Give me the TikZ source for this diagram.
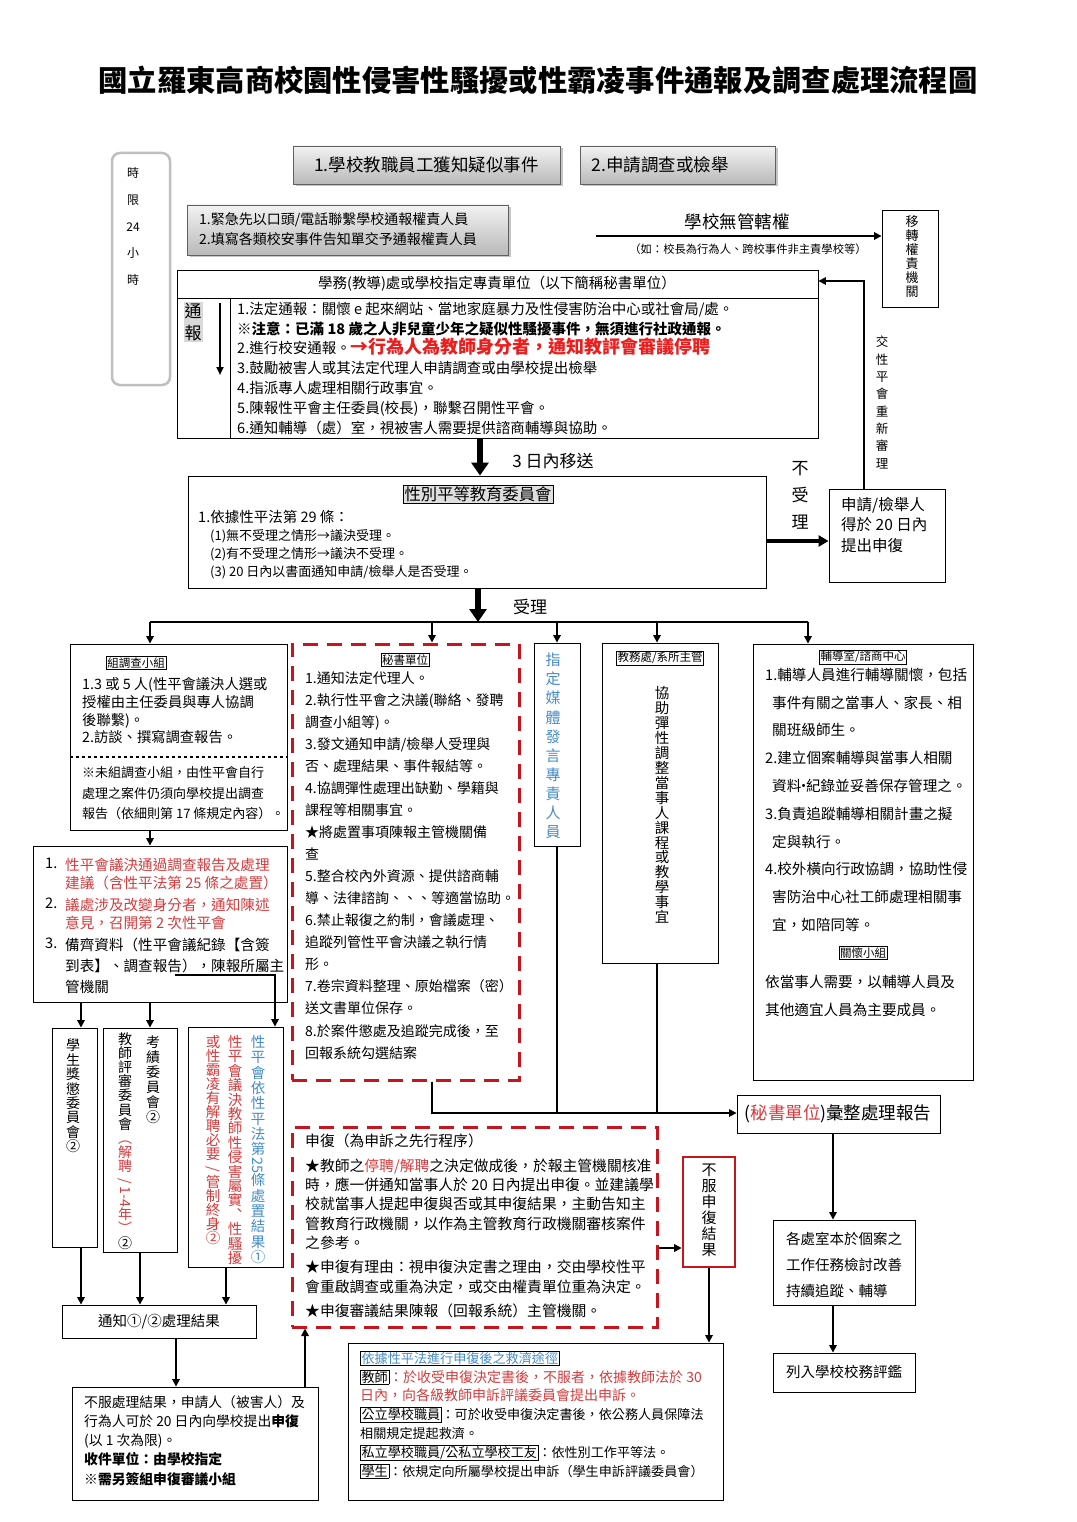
\documentclass[tikz,border=0pt]{standalone}
\usepackage{fontspec}
\usepackage{graphicx}
\setmainfont{Noto Sans CJK TC}
\usetikzlibrary{arrows.meta,fit,shadows}
\definecolor{dred}{RGB}{200,20,30}
\definecolor{tred}{RGB}{212,60,62}
\definecolor{bred}{RGB}{235,30,30}
\definecolor{tblue}{RGB}{70,140,200}
\newcommand\fs[2]{\fontsize{#1}{#2}\selectfont}
\newcommand\rtt[1]{\rotatebox[origin=c]{-90}{#1}}
\newcommand\R[1]{\textcolor{tred}{#1}}
\setlength\fboxsep{0.8pt}
\setlength\fboxrule{0.6pt}
\begin{document}
\begin{tikzpicture}[x=1pt,y=-1pt,
  bx/.style={draw, line width=0.9pt, inner sep=0pt},
  gbx/.style={draw=gray!75!black, line width=0.8pt, inner sep=0pt, top color=gray!10, bottom color=gray!55, drop shadow={shadow xshift=2.5pt, shadow yshift=-2.5pt, opacity=0.45}},
  rdash/.style={draw=dred, line width=3pt, inner sep=0pt, dash pattern=on 15pt off 9pt},
  tx/.style={inner sep=0pt, align=left, anchor=north west},
  vt/.style={inner sep=0pt, align=center},
  lab/.style={draw, line width=0.6pt, inner sep=1.2pt, font=\fs{11.5}{13}},
  thk/.style={line width=3.5pt, -{Triangle[width=11pt,length=10pt]}},
  thkk/.style={line width=5.5pt, -{Triangle[width=17pt,length=13pt]}},
  arr/.style={line width=1.6pt, -{Triangle[width=7.5pt,length=7.5pt]}},
  ln/.style={line width=1.8pt}]
\useasboundingbox (0,0) rectangle (1076,1522);
\fill[white] (0,0) rectangle (1076,1522);

% title
\node[inner sep=0pt, font=\fs{29.3}{32}\bfseries] (title) at (538,80) {國立羅東高商校園性侵害性騷擾或性霸凌事件通報及調查處理流程圖};

% time limit
\node[draw=gray!50, line width=2.5pt, rounded corners=8pt, inner sep=0pt, fit={(112,153)(170,385)}] (tl) {};
\node[vt, font=\fs{12}{26.8}] (tlt) at (133,226.5) {時\\限\\24\\小\\時};

% top boxes
\node[gbx, fit={(293,146)(560,184)}] (b1) {};
\node[inner sep=0pt, font=\fs{17.5}{20}] (b1t) at (b1) {1.學校教職員工獲知疑似事件};
\node[gbx, fit={(580,146)(775,184)}] (b2) {};
\node[inner sep=0pt, font=\fs{17.5}{20}] (b2t) at (660,165) {2.申請調查或檢舉};
\node[gbx, fit={(187,205)(508,255)}] (b3) {};
\node[tx, font=\fs{14}{20}] (b3t) at (199,212) {1.緊急先以口頭/電話聯繫學校通報權責人員\\2.填寫各類校安事件告知單交予通報權責人員};

% jurisdiction
\node[bx, fit={(882,210)(938,307)}] (yz) {};
\node[vt, font=\fs{13}{14}] (yzt) at (912,257) {移\\轉\\權\\責\\機\\關};
\coordinate (jstart) at (596,236);
\draw[arr] (jstart) -- (jstart -| yz.west);
\node[inner sep=0pt, font=\fs{17.5}{20}] (jl) at (737,222) {學校無管轄權};
\node[inner sep=0pt, font=\fs{11.3}{13}] (jl2) at (748,249) {（如：校長為行為人、跨校事件非主責學校等）};

% secretariat
\node[bx, fit={(177,270)(818,438)}] (sec) {};
\draw[line width=0.9pt] (177,298) -- (818,298);
\draw[line width=0.9pt] (230,298) -- (230,438);
\node[inner sep=0pt, font=\fs{14.5}{16}] (sech) at (497,284) {學務(教導)處或學校指定專責單位（以下簡稱秘書單位）};
\node[vt, fill=gray!30, inner sep=1pt, font=\fs{17}{22}] (tb) at (193,322) {通\\報};
\draw[line width=2pt, -{Triangle[width=7pt,length=8pt]}] (220,303) -- (220,375);
\node[tx, font=\fs{14.5}{19.83}] (secb) at (237,301.75) {1.法定通報：關懷 e 起來網站、當地家庭暴力及性侵害防治中心或社會局/處。\\{\bfseries ※注意：已滿 18 歲之人非兒童少年之疑似性騷擾事件，無須進行社政通報。}\\2.進行校安通報。{\color{bred}\bfseries\fs{18}{19.83}→行為人為教師身分者，通知教評會審議停聘}\\3.鼓勵被害人或其法定代理人申請調查或由學校提出檢舉\\4.指派專人處理相關行政事宜。\\5.陳報性平會主任委員(校長)，聯繫召開性平會。\\6.通知輔導（處）室，視被害人需要提供諮商輔導與協助。};

% committee
\coordinate (xc) at (480,0);
\node[inner sep=0pt, font=\fs{17}{20}] (d3) at (553,461) {3 日內移送};
\node[bx, fit={(188,476)(766,588)}] (cb) {};
\draw[thkk] (sec.south -| xc) -- (cb.north -| xc);
\node[draw, fill=gray!25, inner sep=1.5pt, font=\fs{16.3}{18}] (cbt) at (478,494) {性別平等教育委員會};
\node[tx, font=\fs{14.5}{16}] (cb1) at (198,510) {1.依據性平法第 29 條：};
\node[tx, font=\fs{13}{18}] (cb2) at (210,529.5) {(1)無不受理之情形→議決受理。\\(2)有不受理之情形→議決不受理。\\(3) 20 日內以書面通知申請/檢舉人是否受理。};

% not accepted
\node[bx, fit={(829,489)(945,582)}] (sq) {};
\node[tx, font=\fs{15.5}{20.5}] (sqt) at (841,497) {申請/檢舉人\\得於 20 日內\\提出申復};
\coordinate (ya) at (0,541);
\draw[thk] (cb.east |- ya) -- (sq.west |- ya);
\node[vt, font=\fs{17}{27}] (bsl) at (800,495) {不\\受\\理};
\coordinate (xr) at (864,0);
\coordinate (yr) at (0,281);
\draw[arr] (sq.north -| xr) |- (sec.east |- yr);
\node[vt, font=\fs{12.5}{17.3}] (rl) at (882,402.5) {交\\性\\平\\會\\重\\新\\審\\理};

% accepted bus
\coordinate (bus) at (478,622);
\draw[thkk] (cb.south -| bus) -- (bus);
\node[inner sep=0pt, font=\fs{17}{20}] (sl) at (530,607) {受理};
\coordinate (x1) at (150,0);
\coordinate (x2) at (432,0);
\coordinate (x3) at (557,0);
\coordinate (x4) at (657,0);
\coordinate (x5) at (808,0);
\draw[line width=2.5pt] (bus -| x1) -- (bus -| x5);

% investigation group
\node[bx, fit={(70,644)(287,830)}] (gb) {};
\draw[dashed, line width=1.2pt] (70,757) -- (287,757);
\node[lab] (gbl) at (136,663) {組調查小組};
\node[tx, font=\fs{14.3}{17.7}] (gbt) at (82,677.5) {1.3 或 5 人(性平會議決人選或\\授權由主任委員與專人協調\\後聯繫)。\\2.訪談、撰寫調查報告。};
\node[tx, font=\fs{13}{20.5}] (gbt2) at (82,766.5) {※未組調查小組，由性平會自行\\處理之案件仍須向學校提出調查\\報告（依細則第 17 條規定內容）。};

% secretariat unit (dashed)
\node[rdash, fit={(292,644)(519,1080)}] (sb) {};
\node[lab] (sbl) at (405,660) {秘書單位};
\node[tx, font=\fs{14}{22.06}] (sbt) at (305,671) {1.通知法定代理人。\\2.執行性平會之決議(聯絡、發聘\\調查小組等)。\\3.發文通知申請/檢舉人受理與\\否、處理結果、事件報結等。\\4.協調彈性處理出缺勤、學籍與\\課程等相關事宜。\\★將處置事項陳報主管機關備\\查\\5.整合校內外資源、提供諮商輔\\導、法律諮詢、、、等適當協助。\\6.禁止報復之約制，會議處理、\\追蹤列管性平會決議之執行情\\形。\\7.卷宗資料整理、原始檔案（密）\\送文書單位保存。\\8.於案件懲處及追蹤完成後，至\\回報系統勾選結案};

% media
\node[bx, fit={(534,643)(580,846)}] (mb) {};
\node[vt, text=tblue, font=\fs{15}{19.1}] (mbt) at (553,746) {指\\定\\媒\\體\\發\\言\\專\\責\\人\\員};

% academic affairs
\node[bx, fit={(602,643)(718,963)}] (jb) {};
\node[lab] (jbl) at (660,658) {教務處/系所主管};
\node[vt, font=\fs{14.5}{14.93}] (jbt) at (662,805) {協\\助\\彈\\性\\調\\整\\當\\事\\人\\課\\程\\或\\教\\學\\事\\宜};

% counseling
\node[bx, fit={(753,644)(973,1080)}] (fb) {};
\node[lab] (fbl) at (863,657) {輔導室/諮商中心};
\node[tx, font=\fs{14.6}{27.8}] (fbt) at (765,667.7) {1.輔導人員進行輔導關懷，包括\\\hspace*{7pt}事件有關之當事人、家長、相\\\hspace*{7pt}關班級師生。\\2.建立個案輔導與當事人相關\\\hspace*{7pt}資料\kern-5pt·\kern-5pt紀錄並妥善保存管理之。\\3.負責追蹤輔導相關計畫之擬\\\hspace*{7pt}定與執行。\\4.校外橫向行政協調，協助性侵\\\hspace*{7pt}害防治中心社工師處理相關事\\\hspace*{7pt}宜，如陪同等。};
\node[lab] (fbl2) at (863,953) {關懷小組};
\node[tx, font=\fs{14.6}{27.8}] (fbt2) at (765,974.7) {依當事人需要，以輔導人員及\\其他適宜人員為主要成員。};

% bus arrows
\draw[arr] (bus -| x1) -- (gb.north -| x1);
\draw[arr] (bus -| x2) -- (sb.north -| x2);
\draw[arr] (bus -| x3) -- (mb.north -| x3);
\draw[arr] (bus -| x4) -- (jb.north -| x4);
\draw[arr] (bus -| x5) -- (fb.north -| x5);

% decision list
\node[bx, fit={(33,846)(287,1002)}] (lb) {};
\draw[arr] (gb.south -| x1) -- (lb.north -| x1);
\node[tx, font=\fs{14.6}{18}] (n1) at (45,857.7) {1.};
\node[tx, font=\fs{14.6}{18}, text=tred] (lt1) at (65,857.7) {性平會議決通過調查報告及處理\\建議（含性平法第 25 條之處置）};
\node[tx, font=\fs{14.6}{18}] (n2) at (45,897.7) {2.};
\node[tx, font=\fs{14.6}{18}, text=tred] (lt2) at (65,897.7) {議處涉及改變身分者，通知陳述\\意見，召開第 2 次性平會};
\node[tx, font=\fs{14.6}{21}] (n3) at (45,937.7) {3.};
\node[tx, font=\fs{14.6}{21}] (lt3) at (65,937.7) {備齊資料（性平會議紀錄【含簽\\到表】、調查報告），陳報所屬主\\管機關};

% vertical boxes
\coordinate (xA) at (81,0);
\coordinate (xB) at (150,0);
\coordinate (xQ) at (275,0);
\node[bx, fit={(52,1028)(97,1247)}] (ba) {};
\node[vt, font=\fs{14}{14.4}] (bat) at (73,1096) {學\\生\\獎\\懲\\委\\員\\會\\②};
\node[bx, fit={(103,1028)(177,1252)}] (bb) {};
\node[vt, font=\fs{14}{15}] (bbt1) at (153,1080) {考\\績\\委\\員\\會\\②};
\node[vt, font=\fs{14}{14.1}] (bbt2) at (125,1141) {教\\師\\評\\審\\委\\員\\會\\\R{︵}\\\R{解}\\\R{聘}\\\R{\rtt{/}}\\\R{\rtt{1-4}}\\\R{年}\\\R{︶}\\②};
\node[bx, fit={(188,1027)(283,1267)}] (bc) {};
\node[vt, text=tblue, font=\fs{14.5}{15.36}] (bct1) at (258,1149.5) {性\\平\\會\\依\\性\\平\\法\\第\\\rtt{25}\\條\\處\\置\\結\\果\\①};
\node[vt, text=tred, font=\fs{14.5}{14.4}] (bct2) at (235,1150) {性\\平\\會\\議\\決\\教\\師\\性\\侵\\害\\屬\\實\\︑\\性\\騷\\擾};
\node[vt, text=tred, font=\fs{14.5}{14}] (bct3) at (213,1140) {或\\性\\霸\\凌\\有\\解\\聘\\必\\要\\\rtt{/}\\管\\制\\終\\身\\②};
\draw[arr] (lb.south -| xA) -- (ba.north -| xA);
\draw[arr] (lb.south -| xB) -- (bb.north -| xB);
\coordinate (cbq) at (175,975);
\draw[arr] (cbq) -| (bc.north -| xQ);

% notify
\node[bx, fit={(62,1305)(256,1338)}] (nt) {};
\node[inner sep=0pt, font=\fs{14.5}{16}] (ntt) at (159,1322) {通知①/②處理結果};
\coordinate (xA2) at (81,0);
\coordinate (xB2) at (140,0);
\coordinate (xC2) at (226,0);
\draw[arr] (ba.south -| xA2) -- (nt.north -| xA2);
\draw[arr] (bb.south -| xB2) -- (nt.north -| xB2);
\draw[arr] (bc.south -| xC2) -- (nt.north -| xC2);

% appeal request
\node[bx, fit={(72,1387)(318,1500)}] (nf) {};
\node[tx, font=\fs{13.8}{19.3}] (nft) at (84,1395) {不服處理結果，申請人（被害人）及\\行為人可於 20 日內向學校提出{\bfseries 申復}\\(以 1 次為限)。\\{\bfseries 收件單位：由學校指定}\\{\bfseries ※需另簽組申復審議小組}};
\coordinate (xN) at (176,0);
\draw[arr] (nt.south -| xN) -- (nf.north -| xN);

% appeal box
\node[rdash, fit={(292,1127)(657,1327)}] (ab) {};
\node[tx, font=\fs{14.8}{19.25}] (ab1) at (305,1133.6) {申復（為申訴之先行程序）};
\node[tx, font=\fs{14.8}{19.25}] (ab2) at (305,1158.6) {★教師之\R{停聘/解聘}之決定做成後，於報主管機關核准\\時，應一併通知當事人於 20 日內提出申復。並建議學\\校就當事人提起申復與否或其申復結果，主動告知主\\管教育行政機關，以作為主管教育行政機關審核案件\\之參考。};
\node[tx, font=\fs{14.8}{20}] (ab3) at (305,1259.6) {★申復有理由：視申復決定書之理由，交由學校性平\\會重啟調查或重為決定，或交由權責單位重為決定。};
\node[tx, font=\fs{14.8}{20}] (ab4) at (305,1303.6) {★申復審議結果陳報（回報系統）主管機關。};
\coordinate (xU) at (305,0);
\draw[arr] (nf.north -| xU) -- (ab.south -| xU);

% not satisfied with appeal result
\node[draw=dred, line width=2.6pt, inner sep=0pt, fit={(683,1157)(735,1267)}] (nb) {};
\node[vt, font=\fs{15}{16}] (nbt) at (709,1210) {不\\服\\申\\復\\結\\果};
\coordinate (yb) at (0,1248);
\draw[arr] (ab.east |- yb) -- (nb.west |- yb);

% remedies
\node[bx, fit={(348,1343)(723,1500)}] (rb) {};
\draw[arr] (nb.south) -- (rb.north -| nb.south);
\node[tx, font=\fs{13.1}{18.8}] (rbt) at (360,1350.5) {\fbox{\textcolor{tblue}{依據性平法進行申復後之救濟途徑}}\\\fbox{教師}{\color{tred}\fs{14}{18.8}：於收受申復決定書後，不服者，依據教師法於 30}\\{\color{tred}\fs{14}{18.8}日內，向各級教師申訴評議委員會提出申訴。}\\\fbox{公立學校職員}：可於收受申復決定書後，依公務人員保障法\\相關規定提起救濟。\\\fbox{私立學校職員/公私立學校工友}：依性別工作平等法。\\\fbox{學生}：依規定向所屬學校提出申訴（學生申訴評議委員會）};

% report summary
\node[bx, fit={(737,1095)(940,1133)}] (hb) {};
\node[inner sep=0pt, font=\fs{17.5}{20}] (hbt) at (838,1114) {(\R{秘書單位})彙整處理報告};
\coordinate (yh) at (0,1113);
\draw[arr] (sb.south -| x2) |- (hb.west |- yh);
\draw[ln] (mb.south -| x3) -- (x3 |- yh);
\draw[ln] (jb.south -| x4) -- (x4 |- yh);

% follow-up
\coordinate (xk) at (833,0);
\node[bx, fit={(773,1220)(915,1305)}] (kb) {};
\node[tx, font=\fs{14.5}{26}] (kbt) at (786,1231.75) {各處室本於個案之\\工作任務檢討改善\\持續追蹤、輔導};
\draw[arr] (hb.south -| xk) -- (kb.north -| xk);
\node[bx, fit={(773,1353)(915,1392)}] (lr) {};
\node[inner sep=0pt, font=\fs{14.5}{16}] (lrt) at (844,1372) {列入學校校務評鑑};
\draw[arr] (kb.south -| xk) -- (lr.north -| xk);
\end{tikzpicture}
\end{document}
